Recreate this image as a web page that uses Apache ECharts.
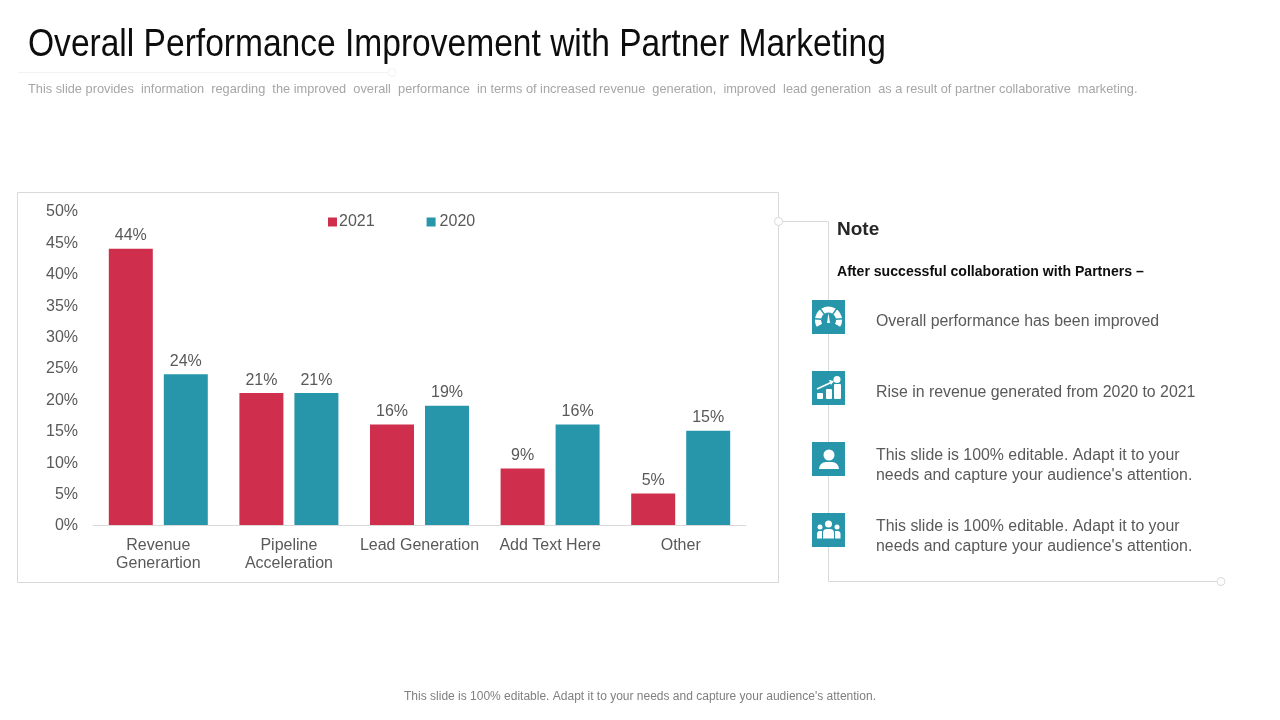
<!DOCTYPE html>
<html>
<head>
<meta charset="utf-8" />
<title>Overall Performance Improvement with Partner Marketing</title>
<script src="https://cdn.jsdelivr.net/npm/echarts@6/dist/echarts.min.js"></script>
<style>
	* { margin: 0; padding: 0; }
	body, html { height: 100%; background: #fff; overflow: hidden; }
	#main { width: 1280px; height: 720px; }
</style>
</head>
<body>
<div id="main"></div>
<script>
var categories = ['Revenue\nGenerartion', 'Pipeline\nAcceleration', 'Lead Generation', 'Add Text Here', 'Other'];
var values2021 = [44, 21, 16, 9, 5];
var values2020 = [24, 21, 19, 16, 15];
var noteLines = [
	'Overall performance has been improved',
	'Rise in revenue generated from 2020 to 2021',
	"This slide is 100% editable. Adapt it to your\nneeds and capture your audience's attention.",
	"This slide is 100% editable. Adapt it to your\nneeds and capture your audience's attention."
];

var RED = '#CF2E4D', TEAL = '#2796AB', GREY = '#595959', RULE = '#D9D9D9';
var FONT = '"Liberation Sans", Arial, sans-serif';

function text(x, y, str, size, color, extra, scaleX) {
	var style = { x: x, y: y, text: str, fontSize: size, fill: color, fontFamily: FONT, textVerticalAlign: 'middle' };
	for (var k in extra) style[k] = extra[k];
	var el = { type: 'text', style: style };
	// no narrow face is installed, so squeeze the text sideways from its left edge
	if (scaleX) {
		el.scaleX = scaleX;
		el.originX = x;
		el.originY = y;
	}
	return el;
}
function line(x1, y1, x2, y2, color) {
	return { type: 'line', shape: { x1: x1, y1: y1, x2: x2, y2: y2 }, style: { stroke: color || RULE, lineWidth: 1 } };
}
function dot(x, y, color) {
	return { type: 'circle', shape: { cx: x, cy: y, r: 4 }, style: { fill: '#fff', stroke: color || RULE, lineWidth: 1 } };
}
function white(type, shape) {
	return { type: type, shape: shape, style: { fill: '#fff' } };
}

// small white pictograms on the teal squares
function gaugeIcon(x, y) {
	var cx = x + 16.5, cy = y + 20, out = [];
	out.push({ type: 'arc', shape: { cx: cx, cy: cy, r: 10.5, startAngle: Math.PI * 0.83, endAngle: Math.PI * 2.17 },
		style: { stroke: '#fff', lineWidth: 6, fill: null } });
	[1.03, 1.3, 1.7, 1.97].forEach(function(a) {
		out.push({ type: 'line', shape: { x1: cx + 7 * Math.cos(a * Math.PI), y1: cy + 7 * Math.sin(a * Math.PI),
			x2: cx + 14.5 * Math.cos(a * Math.PI), y2: cy + 14.5 * Math.sin(a * Math.PI) },
			style: { stroke: TEAL, lineWidth: 1.5 } });
	});
	out.push({ type: 'polygon', shape: { points: [[cx - 1.5, cy + 3], [cx, cy - 7], [cx + 1.5, cy + 3]] }, style: { fill: '#fff' } });
	return out;
}
function revenueIcon(x, y) {
	return [
		white('rect', { x: x + 5, y: y + 22, width: 6, height: 6, r: 1 }),
		white('rect', { x: x + 14, y: y + 18, width: 6, height: 10, r: 1 }),
		white('rect', { x: x + 22, y: y + 13, width: 7, height: 15, r: 1 }),
		{ type: 'line', shape: { x1: x + 5, y1: y + 18, x2: x + 19, y2: y + 11.5 }, style: { stroke: '#fff', lineWidth: 1.5 } },
		{ type: 'polygon', shape: { points: [[x + 17, y + 9], [x + 22, y + 10], [x + 19, y + 14]] }, style: { fill: '#fff' } },
		white('circle', { cx: x + 25, cy: y + 8.5, r: 3.5 })
	];
}
function personIcon(x, y) {
	return [
		white('circle', { cx: x + 17, cy: y + 13, r: 5.5 }),
		white('rect', { x: x + 7, y: y + 20, width: 20, height: 7, r: [7, 7, 0, 0] })
	];
}
function teamIcon(x, y) {
	return [
		white('circle', { cx: x + 16.5, cy: y + 11, r: 3.5 }),
		white('circle', { cx: x + 8, cy: y + 14, r: 2.5 }),
		white('circle', { cx: x + 25, cy: y + 14, r: 2.5 }),
		white('rect', { x: x + 11, y: y + 16, width: 11, height: 9.5, r: [4, 4, 0, 0] }),
		white('rect', { x: x + 5, y: y + 18, width: 5, height: 7.5, r: [3, 0, 0, 0] }),
		white('rect', { x: x + 23, y: y + 18, width: 5.5, height: 7.5, r: [0, 3, 0, 0] })
	];
}

var iconTops = [300, 371, 442, 513];
var iconDraw = [gaugeIcon, revenueIcon, personIcon, teamIcon];
var textMiddles = [322, 393, 466, 537];

var shapes = [
	line(18, 72.5, 388, 72.5, '#F2F2F2'),
	dot(392, 72.5, '#F2F2F2'),
	text(28, 46, 'Overall Performance Improvement with Partner Marketing', 38, '#0D0D0D', null, 0.883),
	text(28, 89, 'This slide provides  information  regarding  the improved  overall  performance  in terms of increased revenue  generation,  improved  lead generation  as a result of partner collaborative  marketing.', 13, '#A6A6A6', null, 0.983),
	{ type: 'rect', shape: { x: 17.5, y: 192.5, width: 761, height: 390 }, style: { fill: null, stroke: RULE, lineWidth: 1 } },
	line(782, 221.5, 828.5, 221.5),
	line(828.5, 221.5, 828.5, 581.5),
	line(828.5, 581.5, 1217, 581.5),
	dot(778.5, 221.5),
	dot(1221, 581.5),
	text(837, 230, 'Note', 19, '#262626', { fontWeight: 'bold' }),
	text(837, 272, 'After successful collaboration with Partners \u2013', 14, '#0D0D0D', { fontWeight: 'bold' }, 1.006),
	text(640, 697, "This slide is 100% editable. Adapt it to your needs and capture your audience's attention.", 12, '#7F7F7F', { textAlign: 'center' })
];

noteLines.forEach(function(str, i) {
	shapes.push({ type: 'rect', shape: { x: 812, y: iconTops[i], width: 33, height: 34 }, style: { fill: TEAL } });
	shapes = shapes.concat(iconDraw[i](812, iconTops[i]));
	shapes.push(text(876, textMiddles[i], str, 16, GREY, { lineHeight: 20 }, 0.992));
});

var myChart = echarts.init(document.getElementById('main'), null, { renderer: 'canvas' });
var barLabel = { show: true, position: 'top', distance: 5, formatter: '{c}%', color: GREY, fontSize: 16, fontFamily: FONT };

myChart.setOption({
	animation: false,
	textStyle: { fontFamily: FONT },
	color: [RED, TEAL],
	legend: {
		left: 323, top: 209, itemWidth: 9, itemHeight: 9, itemGap: 52, icon: 'rect',
		textStyle: { color: GREY, fontSize: 16, fontFamily: FONT, padding: [0, 0, 0, -3] },
		data: [
			{ name: '2021' },
			{ name: '2020', textStyle: { padding: [0, 0, 0, -1] } }
		]
	},
	grid: { left: 93, width: 653, top: 211, height: 314, containLabel: false },
	xAxis: {
		type: 'category',
		data: categories,
		axisTick: { show: false },
		axisLine: { lineStyle: { color: RULE } },
		axisLabel: { color: GREY, fontSize: 16, fontFamily: FONT, lineHeight: 18, margin: 12, interval: 0 }
	},
	yAxis: {
		type: 'value', min: 0, max: 50, interval: 5,
		axisLine: { show: false },
		axisTick: { show: false },
		splitLine: { show: false },
		// top-aligned with a negative pad sits the labels a touch under their tick
		axisLabel: { color: GREY, fontSize: 16, fontFamily: FONT, formatter: '{value}%', margin: 15,
			verticalAlign: 'top', padding: [-7, 0, 0, 0] }
	},
	series: [
		{ name: '2021', type: 'bar', data: values2021, barWidth: 44, barGap: '25%', label: barLabel },
		{ name: '2020', type: 'bar', data: values2020, barWidth: 44, barGap: '25%', label: barLabel }
	],
	graphic: { elements: shapes }
});

window.addEventListener('resize', function() { myChart.resize(); });
</script>
</body>
</html>
